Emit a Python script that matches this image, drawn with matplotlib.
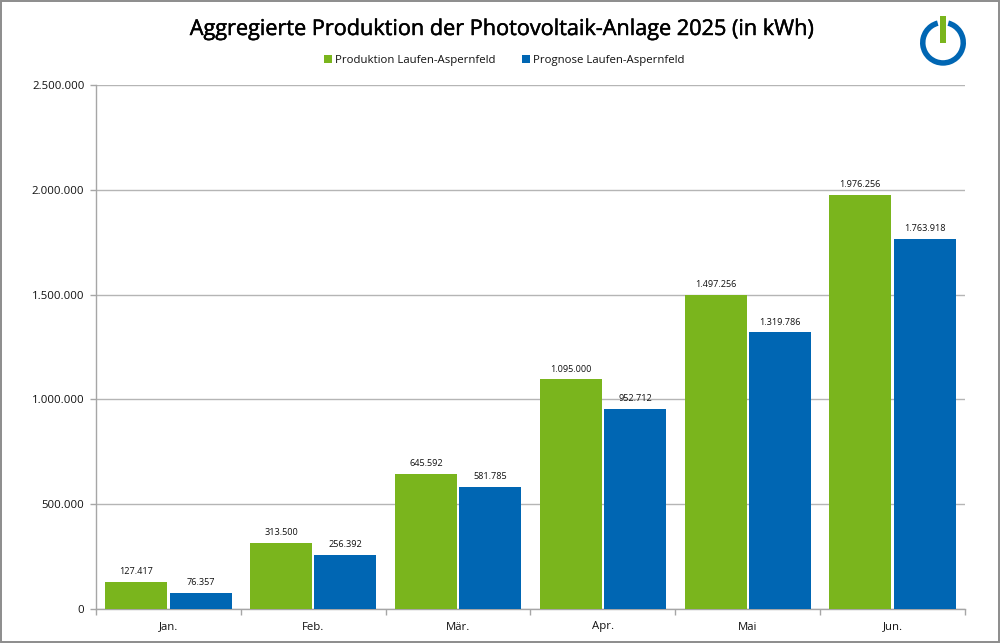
#!/usr/bin/env python3
import numpy as np
import matplotlib
matplotlib.use('Agg')
import matplotlib.pyplot as plt
import matplotlib.patheffects as pe
from matplotlib.patches import Wedge, Rectangle

months = ['Jan.', 'Feb.', 'Mär.', 'Apr.', 'Mai', 'Jun.']
produktion = [127417, 313500, 645592, 1095000, 1497256, 1976256]
prognose = [76357, 256392, 581785, 952712, 1319786, 1763918]
yticks = [0, 500000, 1000000, 1500000, 2000000, 2500000]

GREEN = '#7ab51d'
BLUE = '#0066b3'
W, H = 1000, 643

def de(v):
    return f'{v:,}'.replace(',', '.')

plt.rcParams['font.family'] = ['Open Sans', 'DejaVu Sans']

fig = plt.figure(figsize=(W/100, H/100), dpi=100)
ax = fig.add_axes([96/W, 1-609/H, (965-96)/W, (609-85)/H])

x = np.arange(len(months))
bw = 0.428
off = 0.2225
b1 = ax.bar(x-off, produktion, bw, color=GREEN, label='Produktion Laufen-Aspernfeld', zorder=3)
b2 = ax.bar(x+off, prognose, bw, color=BLUE, label='Prognose Laufen-Aspernfeld', zorder=3)

for xx, v in zip(x-off, produktion):
    ax.annotate(de(v), (xx, v), xytext=(0, 4.2), textcoords='offset points', ha='center', va='bottom', fontsize=6.6, color='#111111')
for xx, v in zip(x+off, prognose):
    ax.annotate(de(v), (xx, v), xytext=(0, 4.2), textcoords='offset points', ha='center', va='bottom', fontsize=6.6, color='#111111')

ax.set_xlim(-0.5, 5.5)
ax.set_ylim(0, 2500000)
ax.set_yticks(yticks)
ax.set_yticklabels([de(v) for v in yticks], fontsize=8.2, color='#111111')
ax.set_xticks(np.arange(-0.5, 6, 1))
ax.set_xticklabels([])
ax.set_xticks(x, minor=True)
ax.set_xticklabels(months, minor=True, fontsize=8.2, color='#111111')
ax.tick_params(axis='x', which='minor', length=0, pad=9)
ax.tick_params(axis='x', which='major', length=4, width=1, color='#a6a6a6')
ax.tick_params(axis='y', length=4, width=1, color='#a6a6a6', pad=4.4)
ax.grid(axis='y', color='#b5b5b5', lw=1, zorder=0)
ax.set_axisbelow(True)
for s in ['top', 'right']:
    ax.spines[s].set_visible(False)
for s in ['left', 'bottom']:
    ax.spines[s].set_color('#a6a6a6')
    ax.spines[s].set_linewidth(1)

title = fig.text(502/W, 1-29.5/H, 'Aggregierte Produktion der Photovoltaik-Anlage 2025 (in kWh)',
                 ha='center', va='center', fontsize=15.6, color='black')
title.set_path_effects([pe.withStroke(linewidth=0.35, foreground='black')])

leg = fig.legend(handles=[b1, b2], loc='center', bbox_to_anchor=(504/W, 1-60/H), ncol=2, frameon=False,
                 fontsize=8.2, handlelength=0.7, handleheight=0.7, handletextpad=0.26, columnspacing=2.37,
                 borderpad=0, borderaxespad=0)
for t in leg.get_texts():
    t.set_color('#111111')

# logo and frame in pixel coordinates
ov = fig.add_axes([0, 0, 1, 1], facecolor='none')
ov.set_xlim(0, W)
ov.set_ylim(H, 0)
ov.axis('off')
ov.add_patch(Wedge((943, 42.7), 23, -75, 255, width=5.5, color=BLUE, lw=0))
ov.add_patch(Rectangle((940, 16), 5.5, 27, color=GREEN, lw=0))
ov.add_patch(Rectangle((0.5, 0.5), W-1.5, H-1.5, fill=False, ec='#8c8c8c', lw=1.4))

fig.savefig('out.png', dpi=100)
